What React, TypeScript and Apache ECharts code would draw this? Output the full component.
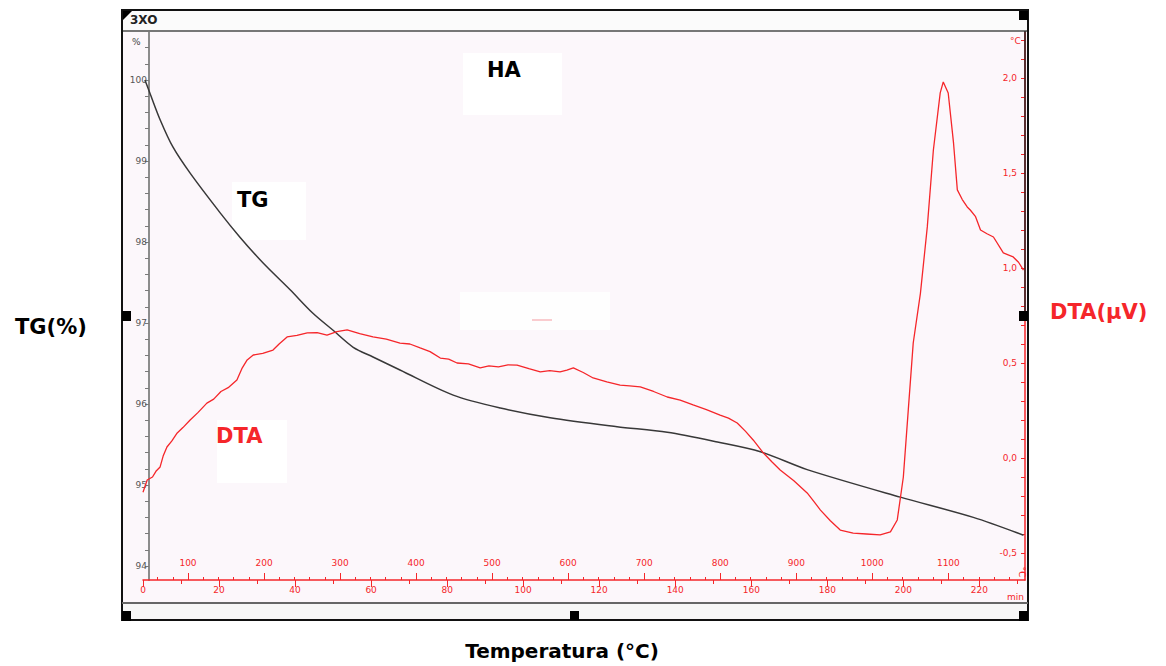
import { useEffect, useRef } from "react";
import * as echarts from "echarts";

// TG curve (time in min, mass %)
const tgTime = [0.5, 1.8, 4.5, 7.9, 12.4, 20.3, 25.5, 31.6, 38.7, 44.7, 50.0, 55.3, 60.5, 67.6, 81.6, 94.0, 107.1, 124.7, 137.9, 151.1, 162.4, 174.7, 199.2, 218.4, 231.6];
const tgValues = [100.0, 99.84, 99.51, 99.17, 98.85, 98.36, 98.06, 97.74, 97.41, 97.12, 96.91, 96.7, 96.58, 96.42, 96.11, 95.95, 95.83, 95.72, 95.65, 95.53, 95.41, 95.19, 94.85, 94.6, 94.38];

// DTA curve (time in min, °C)
const dtaTime = [0, 1.1, 2.5, 3.4, 4.5, 5.3, 6.3, 7.6, 9.0, 10.5, 12.4, 14.5, 16.8, 18.6, 20.5, 22.4, 24.7, 26.0, 27.4, 29.0, 31.5, 34.2, 35.8, 37.9, 40.5, 43.2, 45.8, 48.4, 51.0, 53.7, 57.0, 60.5, 64.0, 67.6, 70.2, 72.9, 75.5, 78.2, 80.4, 82.6, 85.6, 88.7, 91.0, 93.5, 96.0, 98.4, 101.5, 104.5, 107.0, 109.7, 111.5, 113.2, 115.8, 118.4, 122.0, 125.5, 128.0, 130.8, 134.3, 137.9, 141.3, 144.7, 148.2, 151.8, 154.0, 156.3, 158.5, 160.5, 163.2, 165.4, 167.6, 171.2, 174.7, 176.5, 178.2, 180.8, 183.4, 186.8, 190.3, 193.9, 196.6, 198.4, 200.0, 201.3, 202.6, 204.5, 206.3, 207.9, 209.7, 210.5, 211.8, 213.2, 214.2, 215.5, 216.8, 217.6, 219.0, 220.3, 222.0, 223.7, 226.3, 228.9, 230.3, 231.6];
const dtaValues = [-0.18, -0.116, -0.1, -0.07, -0.047, 0.01, 0.058, 0.09, 0.132, 0.16, 0.2, 0.24, 0.289, 0.31, 0.35, 0.37, 0.411, 0.47, 0.516, 0.542, 0.55, 0.568, 0.6, 0.637, 0.645, 0.658, 0.66, 0.647, 0.665, 0.674, 0.655, 0.637, 0.625, 0.605, 0.6, 0.579, 0.56, 0.526, 0.52, 0.5, 0.495, 0.474, 0.485, 0.48, 0.49, 0.489, 0.47, 0.453, 0.46, 0.453, 0.462, 0.474, 0.45, 0.421, 0.4, 0.384, 0.38, 0.374, 0.35, 0.321, 0.305, 0.279, 0.255, 0.226, 0.21, 0.184, 0.14, 0.095, 0.026, -0.02, -0.063, -0.12, -0.184, -0.23, -0.274, -0.33, -0.379, -0.395, -0.4, -0.405, -0.389, -0.326, -0.1, 0.253, 0.605, 0.868, 1.216, 1.621, 1.921, 1.979, 1.921, 1.658, 1.411, 1.36, 1.321, 1.305, 1.27, 1.2, 1.18, 1.163, 1.079, 1.058, 1.03, 0.989];

// Tick labels
const tgLabels = [94, 95, 96, 97, 98, 99, 100];
const dtaLabels = [-0.5, 0, 0.5, 1, 1.5, 2];
const timeLabels = [0, 20, 40, 60, 80, 100, 120, 140, 160, 180, 200, 220];
const tempLabels = [100, 200, 300, 400, 500, 600, 700, 800, 900, 1000, 1100];

function steps(from: number, to: number, step: number): number[] {
  const out: number[] = [];
  for (let v = from; v <= to + 1e-9; v += step) out.push(Math.round(v * 100) / 100);
  return out;
}

const RED = "#f5262a";
const FONT = "DejaVu Sans";

export default function App() {
  const ref = useRef<HTMLDivElement>(null);
  useEffect(() => {
    if (!ref.current) return;
    const chart = echarts.init(ref.current, null, { renderer: "svg" });
    const tgData = tgTime.map((t, i) => [t, tgValues[i]]);
    const dtaData = dtaTime.map((t, i) => [t, dtaValues[i]]);
    const tgMinor = steps(94, 100.6, 0.2);
    const dtaMinor = steps(-0.6, 2.2, 0.1);
    const timeMinor = steps(10, 230, 20);
    const tempMinor = steps(60, 1200, 20).filter((v) => v % 100 !== 0);

    const txt = (x: number, y: number, text: string, size: number, color: string, bold = true) => ({
      type: "text",
      x,
      y,
      z: 100,
      style: {
        text,
        fill: color,
        font: `${bold ? "bold " : ""}${size}px "${FONT}"`,
        verticalAlign: "middle",
      },
    });
    const line = (x1: number, y1: number, x2: number, y2: number, color: string, w: number) => ({
      type: "line",
      z: 90,
      shape: { x1, y1, x2, y2 },
      style: { stroke: color, lineWidth: w },
    });
    const box = (x: number, y: number, w: number, h: number, fill: string, z = 95) => ({
      type: "rect",
      z,
      shape: { x, y, width: w, height: h },
      style: { fill },
    });
    const noLine = { show: false, onZero: false };

    chart.setOption({
      animation: false,
      backgroundColor: "#ffffff",
      grid: { left: 143, right: 141, top: 31, bottom: 86, containLabel: false },
      xAxis: [
        {
          type: "value",
          position: "bottom",
          min: 0,
          max: 232,
          axisLine: { show: true, onZero: false, lineStyle: { color: RED, width: 1.5 } },
          axisTick: { show: true, length: 7, customValues: timeLabels, lineStyle: { color: RED } },
          axisLabel: { customValues: timeLabels, fontSize: 9, color: RED, margin: 5, fontFamily: FONT },
          splitLine: { show: false },
        },
        {
          type: "value",
          position: "bottom",
          min: 0,
          max: 232,
          axisLine: noLine,
          axisTick: { show: true, length: 4, customValues: timeMinor, lineStyle: { color: RED } },
          axisLabel: { show: false },
          splitLine: { show: false },
        },
        {
          type: "value",
          position: "bottom",
          min: 40.8,
          max: 1200.8,
          axisLine: noLine,
          axisTick: { show: true, inside: true, length: 7, customValues: tempLabels, lineStyle: { color: RED } },
          axisLabel: {
            inside: true,
            customValues: tempLabels,
            fontSize: 9,
            color: RED,
            margin: 13,
            fontFamily: FONT,
            formatter: (v: number) => String(v),
          },
          splitLine: { show: false },
        },
        {
          type: "value",
          position: "bottom",
          min: 40.8,
          max: 1200.8,
          axisLine: noLine,
          axisTick: { show: true, inside: true, length: 3, customValues: tempMinor, lineStyle: { color: RED } },
          axisLabel: { show: false },
          splitLine: { show: false },
        },
      ],
      yAxis: [
        {
          type: "value",
          position: "left",
          min: 93.827,
          max: 100.605,
          offset: -6,
          axisLine: { show: true, onZero: false, lineStyle: { color: "#8c8c8c", width: 2 } },
          axisTick: { show: true, length: 4, customValues: tgMinor, lineStyle: { color: "#7a7a7a" } },
          axisLabel: { customValues: tgLabels, fontSize: 9, color: "#555", margin: 2, fontFamily: FONT },
          splitLine: { show: false },
        },
        {
          type: "value",
          position: "right",
          min: -0.642,
          max: 2.247,
          axisLine: { show: true, onZero: false, lineStyle: { color: RED, width: 1.5 } },
          axisTick: { show: true, inside: true, length: 4, customValues: dtaMinor, lineStyle: { color: RED } },
          axisLabel: {
            inside: true,
            customValues: dtaLabels,
            fontSize: 9,
            color: RED,
            margin: 8,
            fontFamily: FONT,
            formatter: (v: number) => v.toFixed(1).replace(".", ","),
          },
          splitLine: { show: false },
        },
      ],
      series: [
        {
          name: "TG",
          type: "line",
          xAxisIndex: 0,
          yAxisIndex: 0,
          data: tgData,
          showSymbol: false,
          smooth: 0.3,
          lineStyle: { color: "#383838", width: 1.5 },
          z: 5,
        },
        {
          name: "DTA",
          type: "line",
          xAxisIndex: 0,
          yAxisIndex: 1,
          data: dtaData,
          showSymbol: false,
          smooth: false,
          lineStyle: { color: RED, width: 1.3 },
          z: 5,
        },
      ],
      graphic: [
        // backgrounds
        box(122, 31, 905, 571, "#fcf7fb", -10),
        box(122, 10, 905, 21, "#fbfbfb", -10),
        box(122, 602, 905, 18, "#f7f7f7", -10),
        // white pasted label boxes
        box(463, 53, 99, 62, "#ffffff", -5),
        box(232, 182, 74, 58, "#ffffff", -5),
        box(217, 420, 70, 63, "#ffffff", -5),
        box(460, 292, 150, 38, "#fefefe", -5),
        line(532, 320, 552, 320, "#f59aa0", 1),
        // frame
        line(122, 10, 1028, 10, "#111", 2),
        line(122, 31, 1028, 31, "#777", 2),
        line(122, 9, 122, 621, "#111", 2),
        line(1028, 9, 1028, 621, "#111", 2),
        line(1025, 31, 1025, 318, "#222", 1.5),
        line(122, 603, 1028, 603, "#666", 2),
        line(122, 620, 1028, 620, "#111", 2),
        // handles
        box(1019, 11, 9, 9, "#000", 110),
        box(1019, 311, 9, 10, "#000", 110),
        box(1019, 611, 9, 10, "#000", 110),
        box(570, 611, 9, 9, "#000", 110),
        box(122, 611, 9, 10, "#000", 110),
        box(122, 311, 9, 10, "#000", 110),
        {
          type: "polygon",
          z: 110,
          shape: { points: [[123, 11], [132, 11], [123, 20]] },
          style: { fill: "#000" },
        },
        // small texts
        txt(130, 20, "3XO", 12, "#222"),
        txt(132, 42, "%", 9, "#444", false),
        txt(1010, 41, "°C", 9, RED, false),
        txt(1007, 597, "min", 9, RED, false),
        {
          type: "text",
          x: 1022,
          y: 572,
          z: 100,
          rotation: -Math.PI / 2,
          style: { text: "°C", fill: RED, font: `9px "${FONT}"`, verticalAlign: "middle", align: "center" },
        },
        // big labels
        txt(487, 70, "HA", 21, "#000"),
        txt(237, 200, "TG", 21, "#000"),
        txt(216, 436, "DTA", 21, RED),
        txt(15, 327, "TG(%)", 21, "#000"),
        txt(1050, 312, "DTA(μV)", 21, RED),
        {
          type: "text",
          x: 562,
          y: 651,
          z: 100,
          style: { text: "Temperatura (°C)", fill: "#000", font: `bold 20px "${FONT}"`, verticalAlign: "middle", align: "center" },
        },
      ],
    });
    return () => chart.dispose();
  }, []);
  return <div ref={ref} style={{ position: "fixed", left: 0, top: 0, width: 1166, height: 666 }} />;
}
